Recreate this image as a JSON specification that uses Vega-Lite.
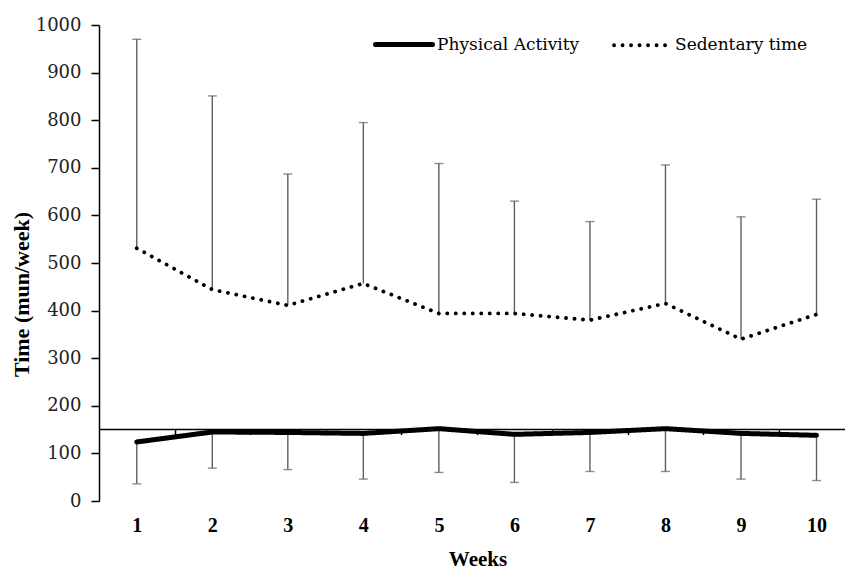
{
  "$schema": "https://vega.github.io/schema/vega-lite/v6.json",
  "width": 746,
  "height": 476,
  "autosize": {"type": "none"},
  "padding": {"left": 99, "top": 25, "right": 0, "bottom": 71},
  "background": "white",
  "data": {
    "values": [
      {"week": 1, "series": "Sedentary time", "mean": 531, "errEnd": 970},
      {"week": 2, "series": "Sedentary time", "mean": 444, "errEnd": 851},
      {"week": 3, "series": "Sedentary time", "mean": 411, "errEnd": 687},
      {"week": 4, "series": "Sedentary time", "mean": 457, "errEnd": 795},
      {"week": 5, "series": "Sedentary time", "mean": 394, "errEnd": 709},
      {"week": 6, "series": "Sedentary time", "mean": 394, "errEnd": 630},
      {"week": 7, "series": "Sedentary time", "mean": 380, "errEnd": 587},
      {"week": 8, "series": "Sedentary time", "mean": 415, "errEnd": 706},
      {"week": 9, "series": "Sedentary time", "mean": 340, "errEnd": 597},
      {"week": 10, "series": "Sedentary time", "mean": 392, "errEnd": 634},
      {"week": 1, "series": "Physical Activity", "mean": 124, "errEnd": 36},
      {"week": 2, "series": "Physical Activity", "mean": 145, "errEnd": 69},
      {"week": 3, "series": "Physical Activity", "mean": 144, "errEnd": 66},
      {"week": 4, "series": "Physical Activity", "mean": 142, "errEnd": 46},
      {"week": 5, "series": "Physical Activity", "mean": 152, "errEnd": 60},
      {"week": 6, "series": "Physical Activity", "mean": 140, "errEnd": 39},
      {"week": 7, "series": "Physical Activity", "mean": 144, "errEnd": 62},
      {"week": 8, "series": "Physical Activity", "mean": 152, "errEnd": 62},
      {"week": 9, "series": "Physical Activity", "mean": 142, "errEnd": 46},
      {"week": 10, "series": "Physical Activity", "mean": 138, "errEnd": 43}
    ]
  },
  "resolve": {"axis": {"x": "independent"}},
  "layer": [
    {
      "data": {"values": [{}]},
      "mark": {"type": "rule", "color": "black", "strokeWidth": 1.5},
      "encoding": {
        "y": {
          "datum": 150, "type": "quantitative",
          "scale": {"domain": [0, 1000], "nice": false, "zero": true},
          "axis": {
            "values": [0, 100, 200, 300, 400, 500, 600, 700, 800, 900, 1000], "format": "d",
            "domainColor": "black", "domainWidth": 1.5,
            "tickColor": "black", "tickWidth": 1.5, "tickSize": 8,
            "labelFont": "DejaVu Serif", "labelFontSize": 18, "labelColor": "#222222", "labelPadding": 10,
            "title": "Time (mun/week)", "titleFont": "Liberation Serif", "titleFontSize": 22,
            "titleFontWeight": "bold", "titleColor": "black", "titleX": -66, "titleY": 269
          }
        }
      }
    },
    {
      "mark": {"type": "rule", "color": "#5f5f5f", "strokeWidth": 1.4},
      "encoding": {
        "x": {
          "field": "week", "type": "quantitative",
          "scale": {"domain": [0.5, 10.377], "nice": false, "zero": false},
          "axis": {
            "orient": "bottom", "values": [1.5, 2.5, 3.5, 4.5, 5.5, 6.5, 7.5, 8.5, 9.5],
            "labels": false, "domain": false, "ticks": true, "tickSize": 5,
            "tickColor": "black", "tickWidth": 1.5, "offset": -71.4, "title": null, "grid": false
          }
        },
        "y": {"field": "mean", "type": "quantitative"},
        "y2": {"field": "errEnd"}
      }
    },
    {
      "mark": {"type": "tick", "orient": "horizontal", "color": "#5f5f5f", "thickness": 1.4, "size": 9},
      "encoding": {
        "x": {"field": "week", "type": "quantitative", "axis": null},
        "y": {"field": "errEnd", "type": "quantitative"}
      }
    },
    {
      "mark": {"type": "line", "color": "black", "strokeCap": "round"},
      "encoding": {
        "x": {
          "field": "week", "type": "quantitative",
          "axis": {
            "orient": "bottom", "values": [1, 2, 3, 4, 5, 6, 7, 8, 9, 10], "format": "d",
            "domain": false, "ticks": false, "tickSize": 0, "grid": false,
            "labelFont": "Liberation Serif", "labelFontSize": 20, "labelFontWeight": "bold",
            "labelColor": "black", "labelPadding": 14,
            "title": "Weeks", "titleFont": "Liberation Serif", "titleFontSize": 21,
            "titleFontWeight": "bold", "titleColor": "black", "titlePadding": 13, "titleX": 378.5
          }
        },
        "y": {"field": "mean", "type": "quantitative"},
        "strokeDash": {
          "field": "series", "type": "nominal",
          "scale": {"domain": ["Physical Activity", "Sedentary time"], "range": [[1, 0], [0.1, 8.4]]},
          "legend": {
            "title": null,
            "encode": {"symbols": {"update": {"strokeCap": {"value": "round"}, "stroke": {"value": "black"}}}}
          }
        },
        "strokeWidth": {
          "field": "series", "type": "nominal",
          "scale": {"domain": ["Physical Activity", "Sedentary time"], "range": [5, 3.8]},
          "legend": {
            "title": null,
            "encode": {"symbols": {"update": {"strokeCap": {"value": "round"}, "stroke": {"value": "black"}}}}
          }
        }
      }
    }
  ],
  "config": {
    "view": {"stroke": null},
    "axis": {"grid": false},
    "legend": {
      "orient": "none", "legendX": 274, "legendY": -11.5, "direction": "horizontal",
      "padding": 0, "labelFont": "DejaVu Serif", "labelFontSize": 17, "labelColor": "black",
      "symbolType": "stroke", "symbolSize": 3249, "symbolStrokeColor": "black",
      "columnPadding": 26, "labelOffset": 2
    }
  }
}
